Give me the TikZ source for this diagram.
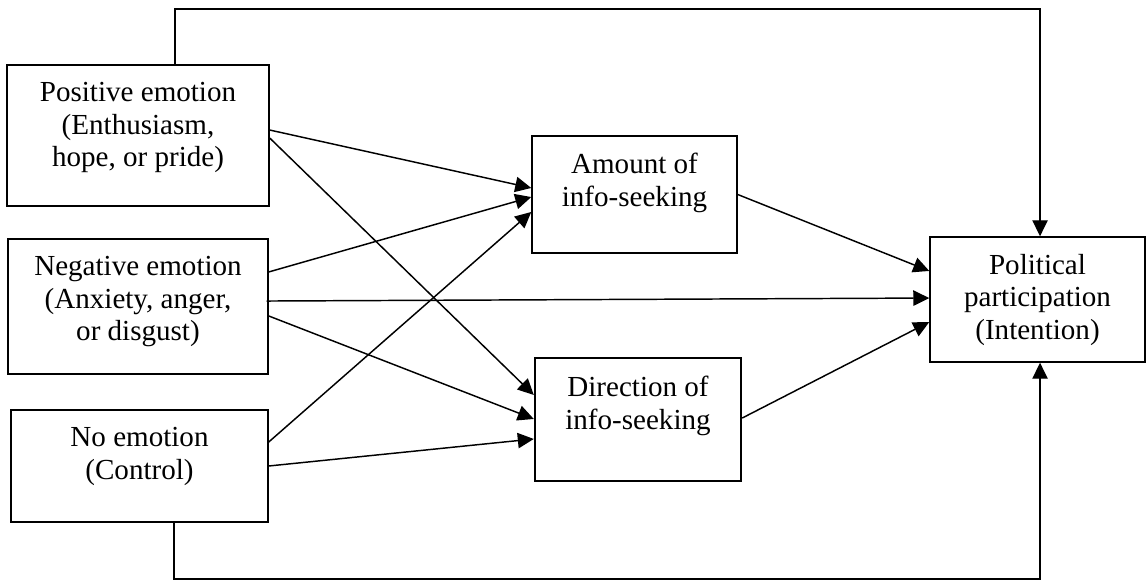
\documentclass[tikz,border=0pt]{standalone}
\usepackage{fontspec}
\setmainfont{Liberation Serif}
\usetikzlibrary{arrows.meta,positioning}
\tikzset{
  box/.style={draw,line width=1.1pt,inner sep=0pt},
  lbl/.style={align=center,inner sep=0pt,font=\fontsize{21.8}{24.4}\selectfont},
  arr/.style={line width=1.1pt,-{Triangle[length=12pt,width=11.5pt]}},
}
\begin{document}
\begin{tikzpicture}[x=0.75pt,y=-0.75pt]
\useasboundingbox (0,0) rectangle (1146,581);
% boxes
\node[box,minimum width=196.5pt,minimum height=105.75pt] (pos) at (138,135.5) {};
\node[box,minimum width=195pt,minimum height=101.25pt] (neg) at (138,306.5) {};
\node[box,minimum width=192.75pt,minimum height=84pt] (none) at (139.5,466) {};
\node[box,minimum width=153.75pt,minimum height=87.75pt] (amount) at (634.5,194.5) {};
\node[box,line width=1.8pt,minimum width=154.5pt,minimum height=92.25pt] (dir) at (638,419.5) {};
\node[box,minimum width=161.25pt,minimum height=93.75pt] (pol) at (1037.5,299.5) {};
% texts
\node[lbl,below=13.5pt of pos.north] (posT) {Positive emotion\\(Enthusiasm,\\hope, or pride)};
\node[lbl,below=13.5pt of neg.north] (negT) {Negative emotion\\(Anxiety, anger,\\or disgust)};
\node[lbl,below=13.5pt of none.north] (noneT) {No emotion\\(Control)};
\node[lbl,below=13.5pt of amount.north] (amountT) {Amount of\\info-seeking};
\node[lbl,below=14.5pt of dir.north] (dirT) {Direction of\\info-seeking};
\node[lbl,below=13pt of pol.north] (polT) {Political\\participation\\(Intention)};
% paths
\foreach \a/\sa/\b/\sb in {pos/4.1/amount/4.9, pos/-1.9/dir/18.4,
  neg/25.9/amount/-1.9, neg/-7.1/dir/0.4, none/18/amount/-13.1,
  none/0/dir/-14.6} {
  \draw[arr] ([yshift=\sa pt]\a.east) -- ([yshift=\sb pt]\b.west); }
\draw[arr] ([yshift=4.1pt,xshift=-1.5pt]neg.east) -- ([yshift=1.1pt]pol.west);
\draw[arr] (amount.east) -- ([yshift=21.4pt]pol.west);
\draw[arr] ([yshift=1.1pt]dir.east) -- ([yshift=-16.9pt]pol.west);
% loops round the outside
\coordinate (topL) at (175,9);
\coordinate (botL) at (174,579);
\draw[arr] (pos.north -| topL) -- (topL) -| ([xshift=1.9pt]pol.north);
\draw[arr] (none.south -| botL) -- (botL) -| ([xshift=1.9pt]pol.south);
\end{tikzpicture}
\end{document}
